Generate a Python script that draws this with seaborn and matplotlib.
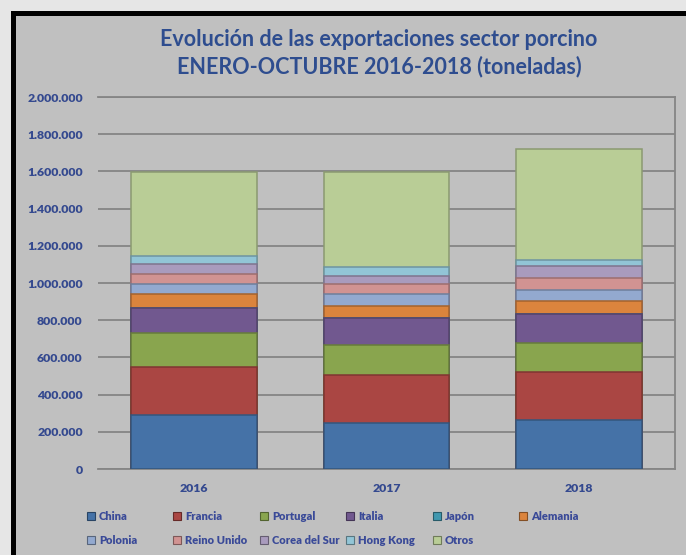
import matplotlib
matplotlib.use("Agg")
import matplotlib.pyplot as plt
import matplotlib.colors as mcolors
from matplotlib.patches import Rectangle
import numpy as np
import pandas as pd
import seaborn as sns

years = ["2016", "2017", "2018"]
countries = ["China", "Francia", "Portugal", "Italia", "Japón", "Alemania",
             "Polonia", "Reino Unido", "Corea del Sur", "Hong Kong", "Otros"]
china = [292000, 249000, 261000]
francia = [256000, 258000, 258000]
portugal = [181000, 160000, 160000]
italia = [139000, 147000, 157000]
japon = [0, 0, 0]
alemania = [74000, 62000, 65000]
polonia = [54000, 66000, 64000]
reino_unido = [53000, 54000, 63000]
corea = [53000, 44000, 65000]
hong_kong = [41000, 44000, 32000]
otros = [452000, 511000, 597000]
yticks = [0, 200000, 400000, 600000, 800000, 1000000, 1200000, 1400000,
          1600000, 1800000, 2000000]

series = [china, francia, portugal, italia, japon, alemania, polonia,
          reino_unido, corea, hong_kong, otros]
colors = ["#4572A7", "#AA4643", "#89A54E", "#71588F", "#4198AF", "#DB843D",
          "#93A9CF", "#D19392", "#A99BBD", "#92C5D6", "#B9CD96"]

def darker(c, f=0.75):
    r, g, b = mcolors.to_rgb(c)
    return (r * f, g * f, b * f)

sns.set_theme(style="white")
plt.rcParams['font.family'] = ['Lato', 'DejaVu Sans']

fig = plt.figure(figsize=(6.86, 5.55), dpi=100)
fig.patch.set_facecolor("#e6e6e6")
W, H = 686, 555

# background panel with black border (own axes, drawn underneath)
bg = fig.add_axes([0, 0, 1, 1], zorder=0)
bg.set_xlim(0, W)
bg.set_ylim(H, 0)
bg.axis("off")
bg.add_patch(Rectangle((12.5, 12.5), W + 50, H + 50, facecolor="#c0c0c0",
                       edgecolor="black", linewidth=3.6))

ax = fig.add_axes([98 / W, (H - 469) / H, (675 - 98) / W, (469 - 97) / H], zorder=2)
ax.set_facecolor("none")

df = pd.DataFrame(dict(zip(countries, series)), index=years)
cum = df.cumsum(axis=1)
for i in reversed(range(len(countries))):
    sns.barplot(x=years, y=cum[countries[i]].values, color=colors[i],
                saturation=1, width=0.655, edgecolor=darker(colors[i]),
                linewidth=1.1, ax=ax, order=years, zorder=3)

ax.set_ylim(0, 2000000)
ax.set_yticks(yticks)
ax.set_yticklabels([f"{v:,}".replace(",", ".") for v in yticks])
ax.yaxis.grid(True, color="#858585", linewidth=1.3)
ax.set_axisbelow(True)
tick_color = "#34498F"
ax.tick_params(axis="y", length=0, pad=11, labelsize=8.8, labelcolor=tick_color)
ax.tick_params(axis="x", length=0, pad=10, labelsize=8.8, labelcolor=tick_color)
for lab in ax.get_yticklabels() + ax.get_xticklabels():
    lab.set_fontweight("heavy")
ax.spines["left"].set_visible(False)
for s in ["top", "right", "bottom"]:
    ax.spines[s].set_color("#858585")
    ax.spines[s].set_linewidth(1.3)
ax.set_xlabel("")
ax.set_ylabel("")

fig.text(379 / W, 1 - 40 / H, "Evolución de las exportaciones sector porcino",
         ha="center", va="center", fontsize=15.5, fontweight="bold", color="#2E4D8F",
         zorder=5)
fig.text(379 / W, 1 - 67 / H, "ENERO-OCTUBRE 2016-2018 (toneladas)",
         ha="center", va="center", fontsize=15.5, fontweight="bold", color="#2E4D8F",
         zorder=5)

# legend laid out in a 6-column grid like the original
x0, dx = 87, 86.4
rows_y = [516, 540]
for i, (name, c) in enumerate(zip(countries, colors)):
    col, row = i % 6, i // 6
    hx = x0 + col * dx
    hy = rows_y[row]
    bg.add_patch(Rectangle((hx, hy - 4), 8, 8, facecolor=c,
                           edgecolor=darker(c, 0.6), linewidth=0.8, zorder=5))
    bg.text(hx + 12, hy, name, ha="left", va="center",
            fontsize=8, fontweight="heavy", color="#3A4A98", zorder=5)

fig.savefig("out.png", dpi=100, facecolor=fig.get_facecolor())
